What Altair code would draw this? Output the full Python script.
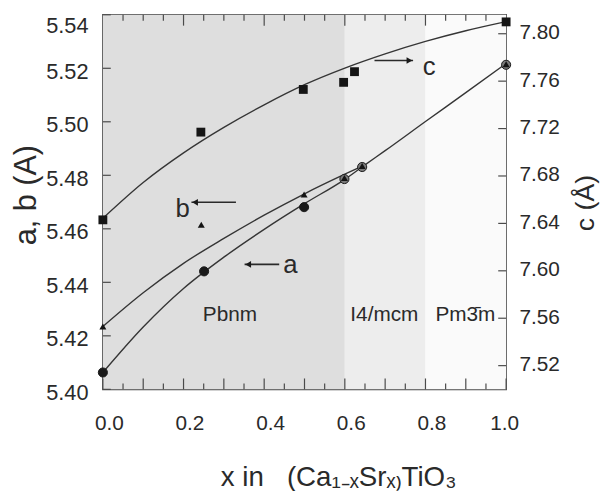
import altair as alt
import pandas as pd

W, H = 408, 379
FONT = "Liberation Sans"
INK = "#2a2a2a"

# ---------------- measured points ----------------
c_x = [0.0, 0.243, 0.497, 0.597, 0.624, 1.0]
c_val = [7.643, 7.717, 7.753, 7.759, 7.768, 7.810]

a_x = [0.0, 0.251, 0.499, 0.599, 0.643, 1.0]
a_val = [5.4063, 5.4441, 5.4681, 5.4786, 5.4831, 5.5213]

b_x = [0.0, 0.244, 0.499, 0.599, 0.643, 1.0]
b_val = [5.4235, 5.4615, 5.4728, 5.4790, 5.4835, 5.5215]

# ---------------- fitted curves ----------------
c_fit_x = [0.0, 0.1, 0.2, 0.3, 0.4, 0.5, 0.6, 0.7, 0.8, 0.9, 1.0]
c_fit = [7.6443, 7.6745, 7.6995, 7.7210, 7.7400, 7.7570, 7.7710, 7.7830, 7.7935, 7.8025, 7.8102]

a_fit_x = [0.0, 0.1, 0.2, 0.3, 0.4, 0.5, 0.6, 0.65, 0.7, 0.8, 0.9, 1.0]
a_fit = [5.4063, 5.4233, 5.4377, 5.4494, 5.4598, 5.4694, 5.4785, 5.4839, 5.4892, 5.5001, 5.5109, 5.5218]

b_fit_x = [0.0, 0.1, 0.2, 0.3, 0.4, 0.5, 0.6, 0.65]
b_fit = [5.4235, 5.4361, 5.4471, 5.4564, 5.4651, 5.4731, 5.4804, 5.4839]

# ---------------- phase regions ----------------
phase_names = ["Pbnm", "I4/mcm", "Pm3\u0304m"]
phase_start = [0.0, 0.6, 0.8]
phase_end = [0.6, 0.8, 1.0]
phase_label_x = [0.315, 0.698, 0.899]
phase_label_y = [5.4255, 5.4255, 5.4255]
phase_fill = ["#dedede", "#ededed", "#fafafa"]

# ---------------- axis ticks / labels ----------------
x_label_vals = [0.0, 0.2, 0.4, 0.6, 0.8, 1.0]
x_major = [0.0, 0.1, 0.2, 0.3, 0.4, 0.5, 0.6, 0.7, 0.8, 0.9, 1.0]
x_minor = [0.05, 0.15, 0.25, 0.35, 0.45, 0.55, 0.65, 0.75, 0.85, 0.95]
top_long = [0.2, 0.4, 0.6, 0.8]
top_short = [0.05, 0.1, 0.15, 0.25, 0.3, 0.35, 0.45, 0.5, 0.55, 0.65, 0.7, 0.75, 0.85, 0.9, 0.95]
left_vals = [5.40, 5.42, 5.44, 5.46, 5.48, 5.50, 5.52, 5.54]
right_vals = [7.52, 7.56, 7.60, 7.64, 7.68, 7.72, 7.76, 7.80]

# ---------------- annotations ----------------
note_text = ["b", "a", "c"]
note_x = [0.1975, 0.465, 0.809]
note_y = [5.4643, 5.4436, 5.5175]
arrow_x1 = [0.2196, 0.3514, 0.6736]
arrow_x2 = [0.330, 0.4373, 0.7693]
arrow_y = [5.4699, 5.4467, 5.5229]
arrow_dir = ["left", "left", "right"]

x_title = "x in\u00a0\u00a0\u00a0(Ca\u2081\u208b\u2093Sr\u2093\u208eTiO\u2083"

# ---------------- scales / axes ----------------
xscale = alt.Scale(domain=[0, 1], nice=False, zero=False)
lscale = alt.Scale(domain=[5.40, 5.54], nice=False, zero=False)
rscale = alt.Scale(domain=[7.50, 7.816], nice=False, zero=False)

xaxis = alt.Axis(values=x_label_vals, format=".1f", ticks=False, tickSize=0, domain=False, grid=False,
                 labelFlush=False, labelOverlap=False, labelFontSize=21, labelPadding=24,
                 labelOffset={"condition": {"test": "datum.value >= 0.99", "value": -2}, "value": 6},
                 labelColor=INK, labelFont=FONT,
                 title=x_title, titleFontSize=28, titleFontWeight="normal", titleColor=INK,
                 titleFont=FONT, titleX=238, titleY=97, titleAlign="center", titleBaseline="alphabetic")
laxis = alt.Axis(values=left_vals, format=".2f", ticks=False, tickSize=0, domain=False, grid=False,
                 labelFlush=False, labelOverlap=False, labelFontSize=22, labelPadding=15,
                 labelOffset={"condition": {"test": "datum.value >= 5.539", "value": 11}, "value": 3},
                 labelColor=INK, labelFont=FONT,
                 title="a, b (A)", titleFontSize=31, titleFontWeight="normal", titleColor=INK,
                 titleFont=FONT, titleAngle=270, titleX=-68, titleY=182, titleAlign="center",
                 titleBaseline="alphabetic")
raxis = alt.Axis(orient="right", values=right_vals, format=".2f", ticks=False, tickSize=0, domain=False,
                 grid=False, labelFlush=False, labelOverlap=False, labelFontSize=21, labelPadding=13,
                 labelOffset=-1,
                 labelColor=INK, labelFont=FONT,
                 title="c (\u00c5)", titleFontSize=27, titleFontWeight="normal", titleColor=INK,
                 titleFont=FONT, titleAngle=270, titleX=88, titleY=190, titleAlign="center",
                 titleBaseline="alphabetic")


def X(f):
    return alt.X(f, type="quantitative", scale=xscale, axis=xaxis)


def YL(f):
    return alt.Y(f, type="quantitative", scale=lscale, axis=laxis)


def YR(f):
    return alt.Y(f, type="quantitative", scale=rscale, axis=raxis)


# ---------------- left group ----------------
regions = alt.Chart(pd.DataFrame({"name": phase_names, "s": phase_start, "e": phase_end})).mark_rect().encode(
    x=X("s"), x2="e", y=alt.value(0), y2=alt.value(H),
    color=alt.Color("name:N", scale=alt.Scale(domain=phase_names, range=phase_fill), legend=None),
)

tick_color = "#4a4a4a"
bot_major = alt.Chart(pd.DataFrame({"v": x_major})).mark_rule(color=tick_color, strokeWidth=1.2).encode(
    x=X("v"), y=alt.value(H), y2=alt.value(H - 11))
bot_minor = alt.Chart(pd.DataFrame({"v": x_minor})).mark_rule(color=tick_color, strokeWidth=1.2).encode(
    x=X("v"), y=alt.value(H), y2=alt.value(H - 6))
top_l = alt.Chart(pd.DataFrame({"v": top_long})).mark_rule(color=tick_color, strokeWidth=1.2).encode(
    x=X("v"), y=alt.value(0), y2=alt.value(11))
top_s = alt.Chart(pd.DataFrame({"v": top_short})).mark_rule(color=tick_color, strokeWidth=1.2).encode(
    x=X("v"), y=alt.value(0), y2=alt.value(6))
left_ticks = alt.Chart(pd.DataFrame({"v": left_vals})).mark_rule(color=tick_color, strokeWidth=1.2).encode(
    y=YL("v"), x=alt.value(0), x2=alt.value(8))

phase_text = alt.Chart(pd.DataFrame({"t": phase_names, "x": phase_label_x, "y": phase_label_y})).mark_text(
    font=FONT, fontSize=21, color=INK, align="center", baseline="alphabetic").encode(
    x=X("x"), y=YL("y"), text="t:N")

line_style = dict(color="#353535", strokeWidth=1.4, interpolate="monotone")
a_line = alt.Chart(pd.DataFrame({"x": a_fit_x, "y": a_fit})).mark_line(**line_style).encode(x=X("x"), y=YL("y"))
b_line = alt.Chart(pd.DataFrame({"x": b_fit_x, "y": b_fit})).mark_line(**line_style).encode(x=X("x"), y=YL("y"))

a_pts = alt.Chart(pd.DataFrame({"x": a_x, "y": a_val})).mark_circle(
    size=85, opacity=1, stroke="#1a1a1a", strokeWidth=1).encode(
    x=X("x"), y=YL("y"),
    color=alt.condition("datum.x >= 0.59", alt.value("#7a7a7a"), alt.value("#1a1a1a")))
b_pts = alt.Chart(pd.DataFrame({"x": b_x, "y": b_val})).mark_point(
    shape="triangle-up", filled=True, size=50, color="#141414", opacity=1).encode(x=X("x"), y=YL("y"))

notes = alt.Chart(pd.DataFrame({"t": note_text, "x": note_x, "y": note_y})).mark_text(
    font=FONT, fontSize=26, color=INK, align="center", baseline="alphabetic").encode(
    x=X("x"), y=YL("y"), text="t:N")

arrows_df = pd.DataFrame({"x1": arrow_x1, "x2": arrow_x2, "y": arrow_y, "d": arrow_dir})
arrow_lines = alt.Chart(arrows_df).mark_rule(color="#2a2a2a", strokeWidth=1.6).encode(
    x=X("x1"), x2="x2", y=YL("y"))
arrow_heads = alt.Chart(arrows_df).transform_calculate(
    hx="datum.d == 'left' ? datum.x1 + 0.009 : datum.x2 - 0.009",
    shp="datum.d == 'left' ? 'triangle-left' : 'triangle-right'",
).mark_point(filled=True, size=45, color="#1a1a1a", opacity=1).encode(
    x=X("hx"), y=YL("y"), shape=alt.Shape("shp:N", scale=None, legend=None))

left_group = alt.layer(regions, bot_major, bot_minor, top_l, top_s, left_ticks, phase_text,
                       a_line, b_line, a_pts, b_pts, arrow_lines, arrow_heads, notes)

# ---------------- right group ----------------
c_line = alt.Chart(pd.DataFrame({"x": c_fit_x, "y": c_fit})).mark_line(**line_style).encode(x=X("x"), y=YR("y"))
c_pts = alt.Chart(pd.DataFrame({"x": c_x, "y": c_val})).mark_square(
    size=80, color="#151515", opacity=1).encode(x=X("x"), y=YR("y"))
right_ticks = alt.Chart(pd.DataFrame({"v": right_vals})).mark_rule(color=tick_color, strokeWidth=1.2).encode(
    y=YR("v"), x=alt.value(W - 8), x2=alt.value(W))

right_group = alt.layer(c_line, c_pts, right_ticks)

chart = alt.layer(left_group, right_group).resolve_scale(y="independent").properties(
    width=W, height=H,
    autosize=alt.AutoSizeParams(type="none"),
    padding={"left": 96, "top": 4, "right": 96, "bottom": 100},
    background="white",
).configure_view(stroke="#4a4a4a", strokeWidth=1.6).configure_text(font=FONT)

chart.save("out.html", embed_options={"renderer": "svg", "actions": False})
